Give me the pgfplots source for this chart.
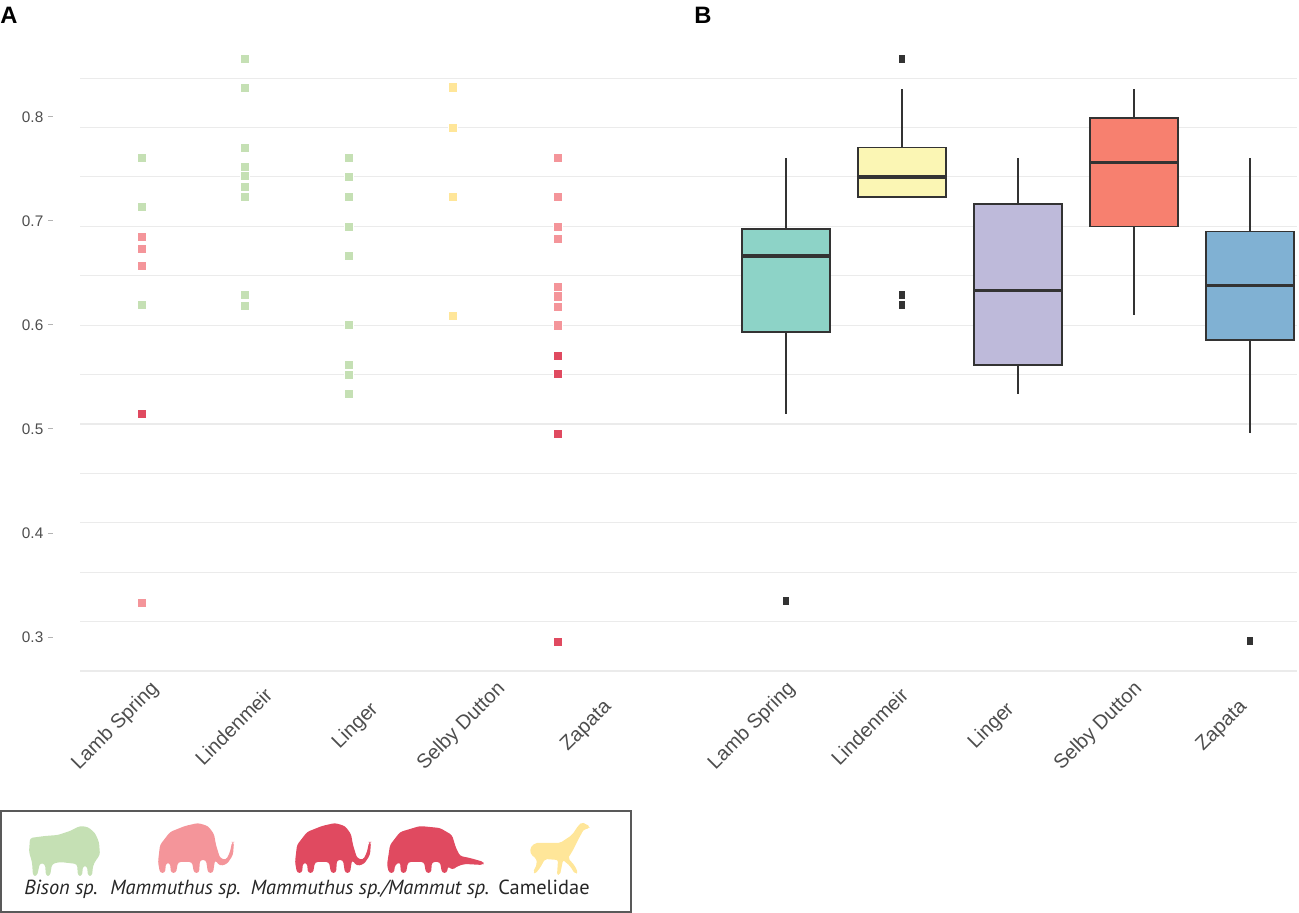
\documentclass[border=0pt]{standalone}
\usepackage{fontspec}
\setmainfont{Liberation Sans}
\newfontfamily\legfont{PT Sans}
\usepackage{pgfplots}
\usepgfplotslibrary{statistics}
\pgfplotsset{compat=1.18}
\definecolor{ptgreen}{HTML}{C5E0B4}
\definecolor{ptpink}{HTML}{F4959A}
\definecolor{ptred}{HTML}{E04A60}
\definecolor{ptyellow}{HTML}{FFE699}
\definecolor{cA}{HTML}{8DD3C7}
\definecolor{cB}{HTML}{FBF6B4}
\definecolor{cC}{HTML}{BEBADA}
\definecolor{cD}{HTML}{F7806F}
\definecolor{cE}{HTML}{80B1D3}
\definecolor{boxdraw}{HTML}{333333}
\definecolor{tickgray}{HTML}{4D4D4D}
\definecolor{tickmark}{HTML}{B3B3B3}
\definecolor{gridc}{HTML}{EBEBEB}
\begin{document}
\begin{tikzpicture}
\useasboundingbox (0,0) rectangle (974.25pt,684.75pt);
\begin{axis}[
  at={(60pt,181.5pt)}, anchor=south west,
  scale only axis, width=912.75pt, height=469.5pt,
  xmin=0.80, xmax=12.97, ymin=0.2673, ymax=0.869,
  clip=false,
  axis lines*=left, axis line style={draw=none},
  boxplot/draw direction=y,
  xtick={1.15,2.33,3.55,4.61,5.86,7.515,8.69,9.91,10.98,12.215},
  xticklabels={Lamb Spring,Lindenmeir,Linger,Selby Dutton,Zapata,Lamb Spring,Lindenmeir,Linger,Selby Dutton,Zapata},
  x tick style={draw=none},
  xticklabel style={rotate=45, anchor=center, xshift=-26.45pt, yshift=-27pt, font=\fontsize{15}{17}\selectfont, text=tickgray},
  ytick={0.3,0.4,0.5,0.6,0.7,0.8},
  y tick style={draw=tickmark, line width=0.6pt, xshift=-20.25pt},
  tick align=outside, major tick length=3.75pt,
  yticklabel style={font=\fontsize{11.5}{13}\selectfont, text=tickgray, xshift=-20.25pt},
  extra y ticks={0.2673,0.3148,0.3623,0.4098,0.4573,0.5047,0.5522,0.5997,0.6472,0.6947,0.7422,0.7897,0.8372},
  extra y tick labels={},
  extra y tick style={grid=major, major grid style={draw=gridc, line width=0.8pt}, major tick length=0pt, tick style={draw=none}},
  /pgf/number format/fixed, /pgf/number format/fixed zerofill, /pgf/number format/precision=1,
  /pgf/number format/assume math mode=true,
]
% Panel A: points
\addplot[only marks, mark=square*, mark size=3.4pt, mark options={fill=ptgreen, draw=white, line width=0.2pt}] coordinates {
 (1.42,0.7603) (1.42,0.7132) (1.42,0.6192)
 (2.45,0.8558) (2.45,0.8279) (2.45,0.7705) (2.45,0.7522) (2.45,0.7433) (2.45,0.7330) (2.45,0.7234) (2.45,0.6286) (2.45,0.6189)
 (3.49,0.7609) (3.49,0.7426) (3.49,0.7231) (3.49,0.6945) (3.49,0.6663) (3.49,0.6000) (3.49,0.5622) (3.49,0.5522) (3.49,0.5337)
};
\addplot[only marks, mark=square*, mark size=3.4pt, mark options={fill=ptpink, draw=white, line width=0.2pt}] coordinates {
 (1.42,0.6849) (1.42,0.6731) (1.42,0.6570) (1.42,0.3333)
 (5.58,0.7606) (5.58,0.7231) (5.58,0.6945) (5.58,0.6830) (5.58,0.6368) (5.58,0.6276) (5.58,0.6176) (5.58,0.5997)
};
\addplot[only marks, mark=square*, mark size=3.4pt, mark options={fill=ptred, draw=white, line width=0.2pt}] coordinates {
 (1.42,0.5144) (5.58,0.5702) (5.58,0.5529) (5.58,0.4952) (5.58,0.2958)
};
\addplot[only marks, mark=square*, mark size=3.4pt, mark options={fill=ptyellow, draw=white, line width=0.2pt}] coordinates {
 (4.53,0.8285) (4.53,0.7894) (4.53,0.7231) (4.53,0.6093)
};
% Panel B: boxplots
\pgfplotsset{
  bstyle/.style={draw=boxdraw, line width=1.4pt, mark=square*, mark size=2.2pt,
    mark options={xscale=0.7, fill=boxdraw, draw=none},
    boxplot/draw direction=y,
    boxplot/whisker extend=0, boxplot/box extend=0.88,
    boxplot/every median/.style={line width=2.8pt}}
}
\addplot[bstyle, fill=cA, boxplot prepared={draw position=7.86, lower whisker=0.5144, lower quartile=0.5930, median=0.6660, upper quartile=0.6923, upper whisker=0.7606}] coordinates {(0,0.3346)};
\addplot[bstyle, fill=cB, boxplot prepared={draw position=9.02, lower whisker=0.7231, lower quartile=0.7231, median=0.7420, upper quartile=0.7705, upper whisker=0.8269}] coordinates {(0,0.8558) (0,0.6286) (0,0.6189)};
\addplot[bstyle, fill=cC, boxplot prepared={draw position=10.18, lower whisker=0.5334, lower quartile=0.5618, median=0.6330, upper quartile=0.7160, upper whisker=0.7606}] coordinates {};
\addplot[bstyle, fill=cD, boxplot prepared={draw position=11.34, lower whisker=0.6093, lower quartile=0.6945, median=0.7560, upper quartile=0.7990, upper whisker=0.8269}] coordinates {};
\addplot[bstyle, fill=cE, boxplot prepared={draw position=12.50, lower whisker=0.4958, lower quartile=0.5856, median=0.6378, upper quartile=0.6897, upper whisker=0.7606}] coordinates {(0,0.2962)};
\end{axis}
% panel letters
\node[anchor=base west, inner sep=0pt, font=\bfseries\fontsize{17.8}{20}\selectfont] at (0pt,666.75pt) {A};
\node[anchor=base west, inner sep=0pt, font=\bfseries\fontsize{17.8}{20}\selectfont] at (520.5pt,666.75pt) {B};
% legend in pixel coordinates
\begin{scope}[x=0.75pt, y=-0.75pt, shift={(0pt,684.75pt)}]
\draw[draw=black!65, line width=0.8pt] (1,811) rectangle (631,912);
% bison
\fill[ptgreen, rounded corners=2pt] (30,838) -- (45,836) -- (58,835) -- (70,831) -- (80,826) -- (88,827) -- (95,833) -- (99,842) -- (100,855) -- (96,860) -- (93,866) -- (92,876) -- (88,876) -- (87,866) -- (83,866) -- (82,876) -- (78,876) -- (77,864) -- (60,862) -- (52,864) -- (50,876) -- (46,876) -- (45,864) -- (40,863) -- (37,876) -- (33,876) -- (32,862) -- (29,852) -- cycle;
% mammoth pink
\fill[ptpink, rounded corners=2pt] (158,862) -- (160,845) -- (170,832) -- (185,826) -- (198,823) -- (208,826) -- (214,834) -- (216,845) -- (220,858) -- (226,860) -- (230,852) -- (232,842) -- (234,842) -- (233,855) -- (227,864) -- (220,866) -- (215,860) -- (213,873) -- (208,873) -- (206,860) -- (200,860) -- (199,873) -- (194,873) -- (192,862) -- (178,862) -- (176,873) -- (171,873) -- (170,863) -- (166,863) -- (165,873) -- (160,873) -- cycle;
% mammoth red
\begin{scope}[shift={(137,0)}]
\fill[ptred, rounded corners=2pt] (158,862) -- (160,845) -- (170,832) -- (185,826) -- (198,823) -- (208,826) -- (214,834) -- (216,845) -- (220,858) -- (226,860) -- (230,852) -- (232,842) -- (234,842) -- (233,855) -- (227,864) -- (220,866) -- (215,860) -- (213,873) -- (208,873) -- (206,860) -- (200,860) -- (199,873) -- (194,873) -- (192,862) -- (178,862) -- (176,873) -- (171,873) -- (170,863) -- (166,863) -- (165,873) -- (160,873) -- cycle;
\end{scope}
% mastodon
\fill[ptred, rounded corners=2pt] (387,865) -- (390,845) -- (400,832) -- (420,826) -- (440,828) -- (452,835) -- (456,848) -- (460,856) -- (470,858) -- (484,862) -- (483,865) -- (465,864) -- (458,866) -- (452,870) -- (448,866) -- (447,873) -- (442,873) -- (440,862) -- (432,862) -- (431,873) -- (426,873) -- (424,862) -- (408,862) -- (406,873) -- (401,873) -- (400,862) -- (395,865) -- (394,873) -- (389,873) -- cycle;
% camel
\fill[ptyellow, rounded corners=1.5pt] (530,848) -- (535,843) -- (560,843) -- (572,835) -- (578,826) -- (582,822) -- (585,824) -- (590,826) -- (589,829) -- (584,829) -- (578,840) -- (572,852) -- (568,858) -- (575,866) -- (578,873) -- (575,874) -- (570,866) -- (563,860) -- (560,875) -- (557,875) -- (558,860) -- (545,859) -- (540,868) -- (535,874) -- (533,872) -- (537,864) -- (536,858) -- (531,855) -- cycle;
% legend labels
\begin{scope}[every node/.style={anchor=base, inner sep=0pt, text=black!85, font=\legfont\fontsize{15.3}{17}\selectfont}]
\node at (61,895) {\itshape Bison sp.};
\node at (175.5,895) {\itshape Mammuthus sp.};
\node at (370,895) {\itshape Mammuthus sp./Mammut sp.};
\node at (544,895) {Camelidae};
\end{scope}
\end{scope}
\end{tikzpicture}
\end{document}
